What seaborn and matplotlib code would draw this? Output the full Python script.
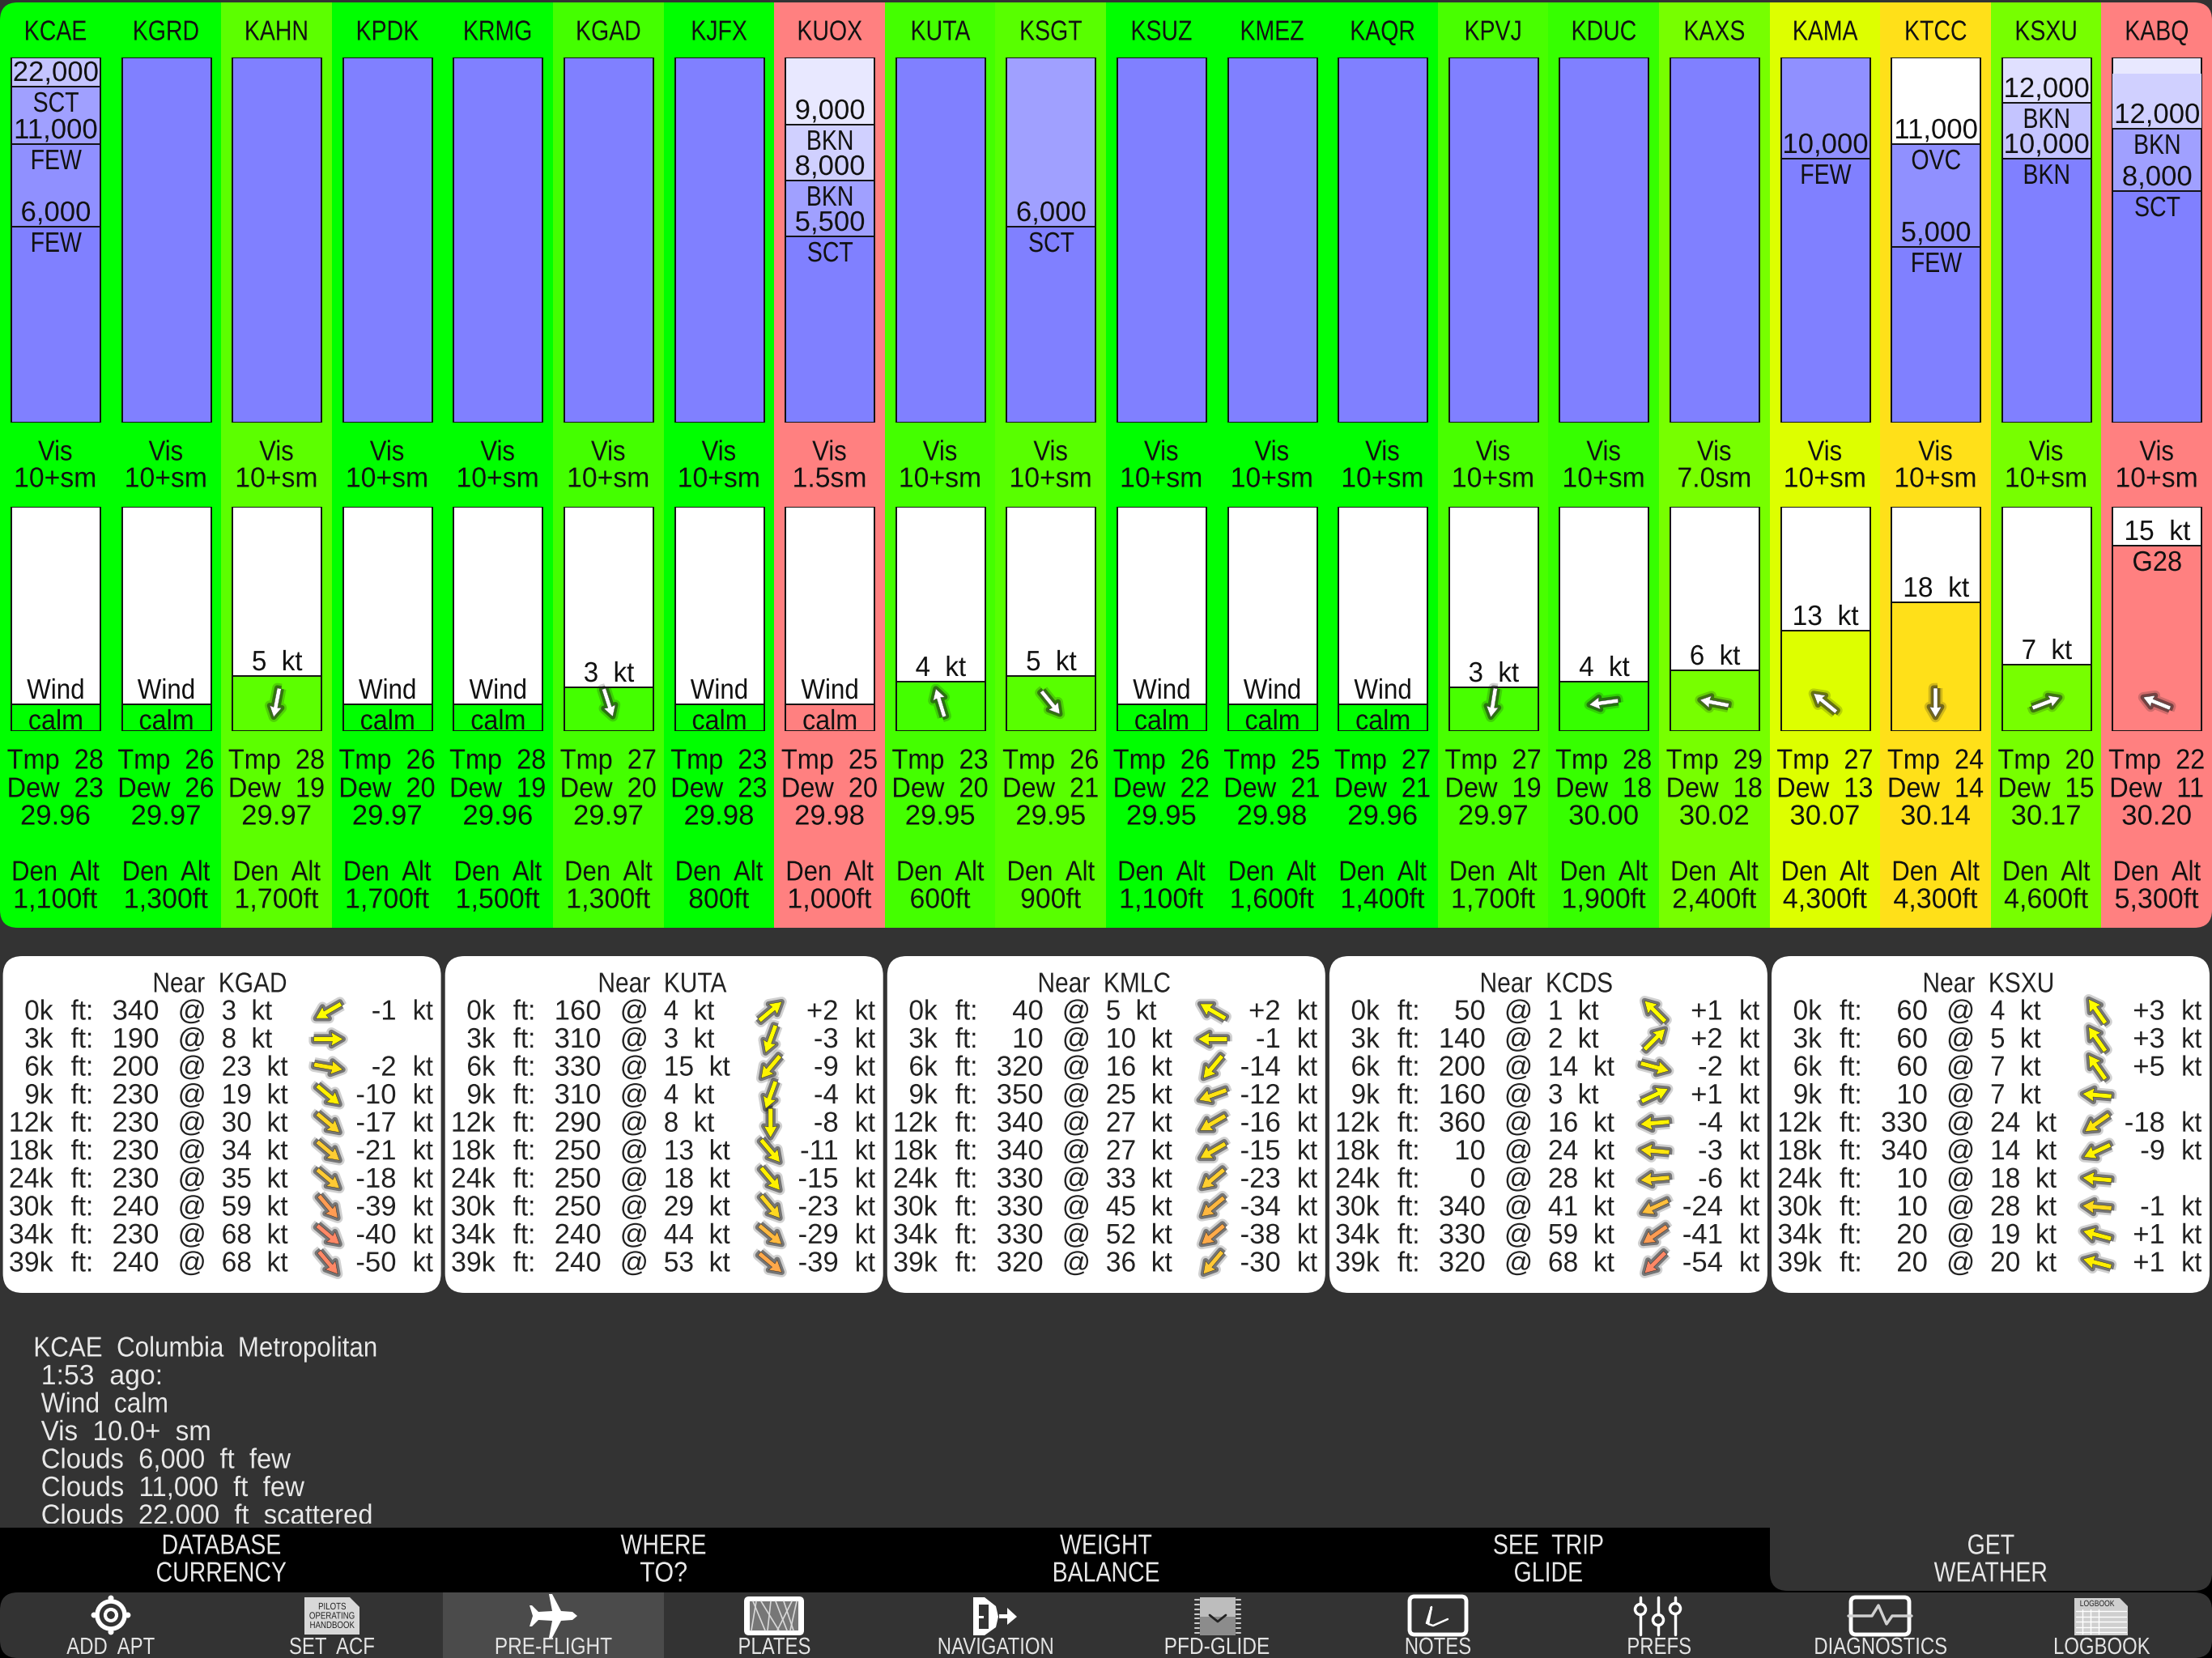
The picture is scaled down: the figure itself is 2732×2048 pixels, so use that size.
import numpy as np
import pandas as pd
import seaborn as sns
import matplotlib.pyplot as plt
import matplotlib.patheffects as pe
from matplotlib.colors import LinearSegmentedColormap
from matplotlib.patches import Circle, FancyBboxPatch, Polygon, Rectangle
from matplotlib.transforms import Affine2D

# station strip
stations = ['KCAE', 'KGRD', 'KAHN', 'KPDK', 'KRMG', 'KGAD', 'KJFX', 'KUOX', 'KUTA', 'KSGT',
            'KSUZ', 'KMEZ', 'KAQR', 'KPVJ', 'KDUC', 'KAXS', 'KAMA', 'KTCC', 'KSXU', 'KABQ']
band_colors = ['#00ff00', '#00ff00', '#5cff00', '#00ff00', '#00ff00', '#44ff00', '#00ff00', '#ff8080',
               '#44ff00', '#58ff00', '#00ff00', '#00ff00', '#00ff00', '#48ff00', '#36ff00', '#77ff00',
               '#ddff00', '#ffe019', '#77ff00', '#ff8080']
visibility = ['10+sm', '10+sm', '10+sm', '10+sm', '10+sm', '10+sm', '10+sm', '1.5sm', '10+sm', '10+sm',
              '10+sm', '10+sm', '10+sm', '10+sm', '10+sm', '7.0sm', '10+sm', '10+sm', '10+sm', '10+sm']
temps = [28, 26, 28, 26, 28, 27, 23, 25, 23, 26, 26, 25, 27, 27, 28, 29, 27, 24, 20, 22]
dews = [23, 26, 19, 20, 19, 20, 23, 20, 20, 21, 22, 21, 21, 19, 18, 18, 13, 14, 15, 11]
altimeter = ['29.96', '29.97', '29.97', '29.97', '29.96', '29.97', '29.98', '29.98', '29.95', '29.95',
             '29.95', '29.98', '29.96', '29.97', '30.00', '30.02', '30.07', '30.14', '30.17', '30.20']
density_alt = [1100, 1300, 1700, 1700, 1500, 1300, 800, 1000, 600, 900,
               1100, 1600, 1400, 1700, 1900, 2400, 4300, 4300, 4600, 5300]
wind_kt = [0, 0, 5, 0, 0, 3, 0, 0, 4, 5, 0, 0, 0, 3, 4, 6, 13, 18, 7, 15]
wind_peak = [0, 0, 5, 0, 0, 3, 0, 0, 4, 5, 0, 0, 0, 3, 4, 6, 13, 18, 7, 28]
wind_heading = [None, None, 191, None, None, 162, None, None, 343, 141,
                None, None, None, 189, 262, 281, 309, 180, 69, 292]

# cloud layers, gauge is the level on the nonlinear height scale of the strip
cloud_station = ['KCAE', 'KCAE', 'KCAE', 'KUOX', 'KUOX', 'KUOX', 'KSGT', 'KAMA',
                 'KTCC', 'KTCC', 'KSXU', 'KSXU', 'KABQ', 'KABQ']
cloud_alt = [22000, 11000, 6000, 9000, 8000, 5500, 6000, 10000, 11000, 5000, 12000, 10000, 12000, 8000]
cloud_cover = ['SCT', 'FEW', 'FEW', 'BKN', 'BKN', 'SCT', 'SCT', 'FEW', 'OVC', 'FEW', 'BKN', 'BKN', 'BKN', 'SCT']
cloud_gauge = [415, 344, 242, 368, 299, 230, 242, 326, 344, 217, 395, 326, 363, 286]
cloud_shade = ['#a0a0ff', '#9090ff', '#8080ff', '#d0d0ff', '#a0a0ff', '#8080ff', '#8080ff', '#8080ff',
               '#9090ff', '#8080ff', '#c4c4ff', '#8080ff', '#a0a0ff', '#8080ff']
sky_shade = {'KCAE': '#c4c4ff', 'KUOX': '#e8e8ff', 'KSGT': '#a0a0ff', 'KAMA': '#9090ff',
             'KTCC': '#ffffff', 'KSXU': '#e0e0ff', 'KABQ': '#e8e8ff'}

# winds aloft cards
card_names = ['KGAD', 'KUTA', 'KMLC', 'KCDS', 'KSXU']
card_rotation = [80, 70, 80, 85, 85]
aloft_levels = ['0k', '3k', '6k', '9k', '12k', '18k', '24k', '30k', '34k', '39k']
aloft_dir = [[340, 190, 200, 230, 230, 230, 230, 240, 230, 240],
             [160, 310, 330, 310, 290, 250, 250, 250, 240, 240],
             [40, 10, 320, 350, 340, 340, 330, 330, 330, 320],
             [50, 140, 200, 160, 360, 10, 0, 340, 330, 320],
             [60, 60, 60, 10, 330, 340, 10, 10, 20, 20]]
aloft_speed = [[3, 8, 23, 19, 30, 34, 35, 59, 68, 68],
               [4, 3, 15, 4, 8, 13, 18, 29, 44, 53],
               [5, 10, 16, 25, 27, 27, 33, 45, 52, 36],
               [1, 2, 14, 3, 16, 24, 28, 41, 59, 68],
               [4, 5, 7, 7, 24, 14, 18, 28, 19, 20]]
aloft_delta = [[-1, None, -2, -10, -17, -21, -18, -39, -40, -50],
               [2, -3, -9, -4, -8, -11, -15, -23, -29, -39],
               [2, -1, -14, -12, -16, -15, -23, -34, -38, -30],
               [1, 2, -2, 1, -4, -3, -6, -24, -41, -54],
               [3, 3, 5, None, -18, -9, None, -1, 1, 1]]

detail_lines = ['KCAE  Columbia  Metropolitan', ' 1:53  ago:', ' Wind  calm', ' Vis  10.0+  sm',
                ' Clouds  6,000  ft  few', ' Clouds  11,000  ft  few', ' Clouds  22,000  ft  scattered']
buttons = ['DATABASE\nCURRENCY', 'WHERE\nTO?', 'WEIGHT\nBALANCE', 'SEE  TRIP\nGLIDE', 'GET\nWEATHER']
nav_tabs = ['ADD  APT', 'SET  ACF', 'PRE-FLIGHT', 'PLATES', 'NAVIGATION',
            'PFD-GLIDE', 'NOTES', 'PREFS', 'DIAGNOSTICS', 'LOGBOOK']

W, H = 2732, 2048
FS = 25
DARK = '#333333'
INK = '#111111'
COL = W / len(stations)
BAR_W = 110 / COL

sns.set_theme(style='white')
plt.rcParams['font.family'] = ['Liberation Sans', 'DejaVu Sans']

fig = plt.figure(figsize=(W / 100, H / 100), dpi=100, facecolor=DARK)


class Condense(pe.AbstractPathEffect):
    # the app font is narrower than anything installed, so squeeze the glyphs sideways
    def __init__(self, ha, squeeze):
        super().__init__()
        self.ha = ha
        self.squeeze = squeeze

    def draw_path(self, renderer, gc, tpath, affine, rgbFace=None):
        box = tpath.get_extents()
        pivot = {'left': box.x0, 'center': (box.x0 + box.x1) / 2, 'right': box.x1}[self.ha]
        squeeze = Affine2D().translate(-pivot, 0).scale(self.squeeze, 1).translate(pivot, 0)
        renderer.draw_path(gc, tpath, squeeze + affine, rgbFace)


def squeeze_for(s):
    letters = [c for c in s if not c.isspace()]
    if not letters:
        return 1.0
    weights = [0.82 if c.isupper() else 0.93 if c.islower() else 1.0 for c in letters]
    return sum(weights) / len(weights)


def band_axes(top, bottom, nudge=0.7):
    ax = fig.add_axes([nudge / W, 1 - bottom / H, 1, (bottom - top) / H])
    ax.patch.set_alpha(0)
    return ax


def finish(ax, top):
    ax.set_xlim(-0.5, len(stations) - 0.5)
    ax.set_ylim(0, top)
    ax.set_axis_off()


def bars(ax, frame, value, palette, width=BAR_W, **kw):
    sns.barplot(data=frame, x='station', y=value, hue='station', palette=palette, order=stations,
                dodge=False, width=width, saturation=1, errorbar=None, legend=False, ax=ax, **kw)


px = fig.add_axes([0, 0, 1, 1])
px.set_xlim(0, W)
px.set_ylim(H, 0)
px.set_axis_off()
px.patch.set_alpha(0)
px.set_zorder(5)

# coloured strip behind every station
strip = pd.DataFrame({'station': stations, 'full': 1})
ax_band = band_axes(3, 1146, nudge=0)
bars(ax_band, strip, 'full', dict(zip(stations, band_colors)), width=1, linewidth=0)
finish(ax_band, 1)
panel = FancyBboxPatch((0, 3), W, 1143, boxstyle='round,pad=0,rounding_size=22', transform=px.transData)
for patch in ax_band.patches:
    patch.set_antialiased(False)
    patch.set_clip_path(panel)

# cloud gauge
GAUGE_TOP = 451
clouds = pd.DataFrame({'station': cloud_station, 'alt': cloud_alt, 'cover': cloud_cover,
                       'gauge': cloud_gauge, 'shade': cloud_shade})
ax_cloud = band_axes(71, 522)
edge = dict(edgecolor=INK, linewidth=1.4)
sky = pd.DataFrame({'station': stations, 'gauge': GAUGE_TOP})
sky_colors = {s: sky_shade.get(s, '#8080ff') for s in stations}
bars(ax_cloud, sky, 'gauge', sky_colors, **edge)
abq = pd.DataFrame({'station': ['KABQ'], 'gauge': [431]})
bars(ax_cloud, abq, 'gauge', {'KABQ': '#d0d0ff'}, linewidth=0)
clouds['rank'] = clouds.groupby('station')['gauge'].rank(ascending=False)
for rank, layer in clouds.groupby('rank'):
    bars(ax_cloud, layer, 'gauge', dict(zip(layer['station'], layer['shade'])), **edge)
finish(ax_cloud, GAUGE_TOP)
for row in clouds.itertuples():
    i = stations.index(row.station)
    ax_cloud.annotate(f'{row.alt:,}', (i, row.gauge), xytext=(0, 7), textcoords='offset pixels',
                      ha='center', va='baseline', fontsize=FS, color=INK)
    ax_cloud.annotate(row.cover, (i, row.gauge), xytext=(0, -5), textcoords='offset pixels',
                      ha='center', va='top', fontsize=FS, color=INK)

# wind gauge, calm sits a little above the floor of the box
CALM = 33 / 7
WIND_TOP = 277 / 7
winds = pd.DataFrame({'station': stations, 'top': WIND_TOP, 'level': np.array(wind_peak) + CALM})
ax_wind = band_axes(626, 903)
bars(ax_wind, winds, 'top', {s: 'white' for s in stations}, **edge)
bars(ax_wind, winds, 'level', dict(zip(stations, band_colors)), **edge)
finish(ax_wind, WIND_TOP)
for i, kt in enumerate(wind_kt):
    upper = f'{kt}  kt' if kt else 'Wind'
    ax_wind.annotate(upper, (i, wind_peak[i] + CALM), xytext=(0, 7), textcoords='offset pixels',
                     ha='center', va='baseline', fontsize=FS, color=INK)
    lower = 'calm' if not kt else ('G28' if wind_peak[i] != kt else '')
    if lower:
        ax_wind.annotate(lower, (i, wind_peak[i] + CALM), xytext=(0, -5), textcoords='offset pixels',
                         ha='center', va='top', fontsize=FS, color=INK)

glow = [pe.Stroke(linewidth=9, foreground='k', alpha=0.2),
        pe.Stroke(linewidth=5, foreground='k', alpha=0.5), pe.Normal()]


def arrows(xs, ys, headings, lengths, colors, width):
    rad = np.radians(headings)
    q = px.quiver(xs, ys, lengths * np.sin(rad), lengths * np.cos(rad), color=colors, angles='uv',
                  scale_units='dots', scale=1, units='dots', width=width, headwidth=3.0,
                  headlength=2.6, headaxislength=2.4, pivot='middle', edgecolor='#222222',
                  linewidth=0.3, zorder=6)
    q.set_path_effects(glow)


# per station text
for i, s in enumerate(stations):
    cx = COL * (i + 0.5)
    px.text(cx, 40, s, ha='center', va='center', fontsize=FS, color=INK)
    px.text(cx, 559, 'Vis', ha='center', va='center', fontsize=FS, color=INK)
    px.text(cx, 592, visibility[i], ha='center', va='center', fontsize=FS, color=INK)
    px.text(cx, 940, f'Tmp  {temps[i]}', ha='center', va='center', fontsize=FS, color=INK)
    px.text(cx, 975, f'Dew  {dews[i]}', ha='center', va='center', fontsize=FS, color=INK)
    px.text(cx, 1009, altimeter[i], ha='center', va='center', fontsize=FS, color=INK)
    px.text(cx, 1078, 'Den  Alt', ha='center', va='center', fontsize=FS, color=INK)
    px.text(cx, 1112, f'{density_alt[i]:,}ft', ha='center', va='center', fontsize=FS, color=INK)

moving = [i for i, h in enumerate(wind_heading) if h is not None]
arrows(np.array([COL * (i + 0.5) for i in moving]), np.full(len(moving), 868.0),
       np.array([wind_heading[i] for i in moving], dtype=float), 36.0, 'white', 5)

# winds aloft cards
speed_cmap = LinearSegmentedColormap.from_list(
    'aloft', [(0, '#ffff00'), (0.3, '#ffee00'), (0.5, '#ffcc33'), (0.85, '#ff9f50'), (1, '#ff8866')])
for c, name in enumerate(card_names):
    left = 3.6 + 546.1 * c
    px.add_patch(FancyBboxPatch((left, 1181), 541, 416, boxstyle='round,pad=0,rounding_size=24',
                                facecolor='white', edgecolor='none', zorder=1))
    px.text(left + 268, 1216, f'Near  {name}', ha='center', va='center', fontsize=FS, color='#222222')
    ys = 1250 + 34.55 * np.arange(len(aloft_levels))
    for y, lvl, d, sp, dl in zip(ys, aloft_levels, aloft_dir[c], aloft_speed[c], aloft_delta[c]):
        px.text(left + 62, y, lvl, ha='right', va='center', fontsize=FS, color='#222222')
        px.text(left + 84, y, 'ft:', ha='left', va='center', fontsize=FS, color='#222222')
        px.text(left + 193, y, str(d), ha='right', va='center', fontsize=FS, color='#222222')
        px.text(left + 216, y, '@', ha='left', va='center', fontsize=FS, color='#222222')
        px.text(left + 270, y, f'{sp}  kt', ha='left', va='center', fontsize=FS, color='#222222')
        if dl is not None:
            px.text(left + 486, y, f'{dl:+d}', ha='right', va='center', fontsize=FS, color='#222222')
            px.text(left + 506, y, 'kt', ha='left', va='center', fontsize=FS, color='#222222')
    headings = (np.array(aloft_dir[c]) + 180 + card_rotation[c]) % 360.0
    arrows(np.full(len(ys), left + 402), ys - 1, headings, 36.0,
           speed_cmap(np.array(aloft_speed[c]) / 68), 5.5)

# selected station detail, the last line runs under the button bar
for j, line in enumerate(detail_lines):
    px.text(41, 1666 + 34.5 * j, line, ha='left', va='center', fontsize=FS, color='#e8e8e8', zorder=2)

px.add_patch(Rectangle((0, 1882), W, 5, facecolor=DARK, edgecolor='none', zorder=2.4))
px.add_patch(Rectangle((0, 1887), W, H - 1887, facecolor='black', edgecolor='none', zorder=2.5))
px.add_patch(FancyBboxPatch((2186, 1850), W - 2186, 115, boxstyle='round,pad=0,rounding_size=22',
                            facecolor=DARK, edgecolor='none', zorder=2.6))
px.add_patch(FancyBboxPatch((0, 1967), W, 81, boxstyle='round,pad=0,rounding_size=22',
                            facecolor=DARK, edgecolor='none', zorder=2.6))
px.add_patch(Rectangle((547, 1967), 273, 81, facecolor='#4b4b4b', edgecolor='none', zorder=2.7))

for b, label in enumerate(buttons):
    first, second = label.split('\n')
    bx = (b + 0.5) * W / len(buttons)
    px.text(bx, 1910, first, ha='center', va='center', fontsize=FS, color='#e8e8e8', zorder=4)
    px.text(bx, 1944, second, ha='center', va='center', fontsize=FS, color='#e8e8e8', zorder=4)

for n, label in enumerate(nav_tabs):
    px.text((n + 0.5) * W / len(nav_tabs), 2035, label, ha='center', va='center', fontsize=21,
            color='#e4e4e4', zorder=4)

# toolbar icons, rough shapes only
Z = dict(zorder=4)
# add airport
px.add_patch(Circle((137, 1995), 17, fill=False, edgecolor='white', linewidth=4, **Z))
px.add_patch(Circle((137, 1995), 7, fill=False, edgecolor='white', linewidth=3, **Z))
for dx, dy in [(0, -22), (0, 22), (-22, 0), (22, 0)]:
    px.add_patch(Circle((137 + dx * 0.95, 1995 + dy * 0.95), 3.5, facecolor='white', edgecolor='none', **Z))
# handbook
px.add_patch(Polygon([(376, 1973), (432, 1973), (444, 1985), (444, 2019), (376, 2019)],
                     facecolor='#d8d8d8', edgecolor='none', **Z))
for k, word in enumerate(['PILOTS', 'OPERATING', 'HANDBOOK']):
    px.text(410, 1985 + 11.5 * k, word, ha='center', va='center', fontsize=8.5, color='#222222', zorder=5)
# plane
plane = np.array([(30, 0), (24, -5), (10, -6), (-1, -27), (-5, -27), (-1, -6), (-18, -5), (-26, -13), (-29, -13),
                  (-25, 0), (-29, 13), (-26, 13), (-18, 5), (-1, 6), (-5, 27), (-1, 27), (10, 6), (24, 5)])
px.add_patch(Polygon(plane + [683, 1996], facecolor='white', edgecolor='none', **Z))
# plates
px.add_patch(FancyBboxPatch((919, 1972), 74, 48, boxstyle='round,pad=0,rounding_size=6', facecolor='white',
                            edgecolor='none', **Z))
px.add_patch(Rectangle((926, 1978), 60, 36, facecolor='#777777', edgecolor='none', **Z))
for a, b in [(930, 945), (940, 962), (952, 948), (968, 980), (978, 960), (934, 928), (958, 972), (984, 976)]:
    px.plot([a, b], [1978, 2014], color='#d8d8d8', linewidth=1.2, zorder=4.5)
# navigation
px.add_patch(Polygon([(1202, 1973), (1216, 1973), (1230, 1984), (1233, 1997), (1230, 2010), (1216, 2020), (1202, 2020)],
                     facecolor='white', edgecolor='none', **Z))
px.add_patch(Rectangle((1209, 1982), 12, 30, facecolor=DARK, edgecolor='none', zorder=4.2))
px.add_patch(Rectangle((1209, 1996), 6, 2.5, facecolor='white', edgecolor='none', zorder=4.4))
px.add_patch(Rectangle((1234, 1994), 12, 5, facecolor='white', edgecolor='none', **Z))
px.add_patch(Polygon([(1244, 1986), (1256, 1997), (1244, 2007)], facecolor='white', edgecolor='none', **Z))
# pfd
px.add_patch(Rectangle((1482, 1973), 44, 24, facecolor='#bdbdbd', edgecolor='none', **Z))
px.add_patch(Rectangle((1482, 1997), 44, 23, facecolor='#8c8c8c', edgecolor='none', **Z))
px.plot([1494, 1504, 1514], [1995, 2003, 1995], color='#222222', linewidth=2, zorder=4.5)
for t in np.linspace(1976, 2017, 8):
    px.plot([1476, 1481], [t, t], color='#cccccc', linewidth=1.5, zorder=4.5)
    px.plot([1527, 1532], [t, t], color='#cccccc', linewidth=1.5, zorder=4.5)
# notes
px.add_patch(FancyBboxPatch((1741, 1972), 70, 47, boxstyle='round,pad=0,rounding_size=6', facecolor='none',
                            edgecolor='white', linewidth=3.5, **Z))
px.plot([1762, 1768, 1764, 1770, 1788], [2005, 1985, 2006, 2008, 2000], color='white', linewidth=1.8, zorder=4.5)
# prefs
for sx, ky in [(2026, 1988), (2048, 2001), (2069, 1987)]:
    px.plot([sx, sx], [1973, 2019], color='white', linewidth=2.5, zorder=4)
    px.add_patch(Circle((sx, ky), 6.5, facecolor=DARK, edgecolor='white', linewidth=2.5, zorder=4.5))
# diagnostics
px.add_patch(FancyBboxPatch((2286, 1973), 72, 46, boxstyle='round,pad=0,rounding_size=6', facecolor='none',
                            edgecolor='white', linewidth=3.5, **Z))
px.plot([2283, 2312, 2320, 2330, 2337, 2361], [1996, 1996, 1983, 2006, 1996, 1996], color='#d0d0d0',
        linewidth=2.5, zorder=4.5)
# logbook
px.add_patch(Polygon([(2562, 1974), (2618, 1974), (2628, 1984), (2628, 2020), (2562, 2020)],
                     facecolor='#cfcfcf', edgecolor='none', **Z))
px.text(2590, 1981, 'LOGBOOK', ha='center', va='center', fontsize=7.5, color='#222222', zorder=5)
for gy in np.linspace(1990, 2016, 5):
    px.plot([2564, 2626], [gy, gy], color='#ffffff', linewidth=1, zorder=4.5)
for gx in [2572, 2582, 2592]:
    px.plot([gx, gx], [1988, 2018], color='#ffffff', linewidth=1, zorder=4.5)

px.set_xlim(0, W)
px.set_ylim(H, 0)
for ax in fig.axes:
    for t in ax.texts:
        t.set_path_effects([Condense(t.get_ha(), squeeze_for(t.get_text()))])
fig.savefig('out.png', dpi=100, facecolor=fig.get_facecolor())
